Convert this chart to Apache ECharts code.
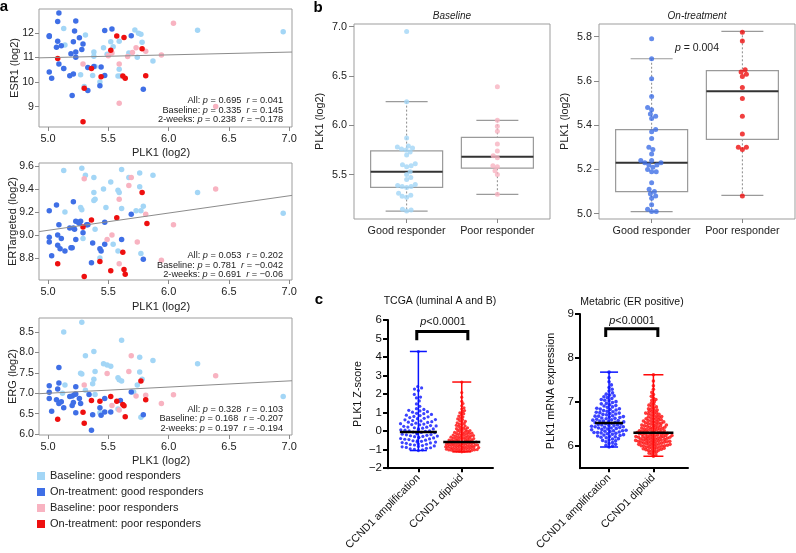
<!DOCTYPE html>
<html><head><meta charset="utf-8">
<script src="https://cdn.jsdelivr.net/npm/echarts@6/dist/echarts.min.js"></script>
<style>html,body{margin:0;padding:0;background:#fff}#c{width:796px;height:553px}</style>
</head><body><div id="c"></div>
<script>
// ---------------- DATA ----------------
const groupNames = ['Baseline: good responders','On-treatment: good responders','Baseline: poor responders','On-treatment: poor responders'];

// Panel a: [PLK1, gene] pairs
const esr1BaseGood = [[5.13,12.19],[5.72,12.12],[5.75,11.99],[5.77,11.95],[6.24,12.11],[6.95,12.05],[5.31,11.92],[5.52,11.64],[5.59,11.67],[5.78,11.62],[5.14,11.51],[5.54,11.44],[5.46,11.40],[5.38,11.23],[5.49,11.14],[5.67,11.19],[5.38,11.05],[5.74,11.01],[5.87,10.86],[5.39,10.64],[5.59,10.52],[5.13,10.55],[5.27,10.30],[5.37,10.27],[5.58,10.25],[5.60,10.25],[5.43,10.00],[5.30,9.82]];
const esr1TreatGood = [[5.09,12.82],[5.08,12.47],[5.23,12.49],[5.22,12.08],[5.47,12.10],[5.53,12.16],[5.01,11.89],[5.01,11.86],[5.26,11.81],[5.69,11.89],[5.08,11.67],[5.21,11.64],[5.29,11.55],[5.11,11.48],[5.07,11.42],[5.28,11.33],[5.19,11.16],[5.23,11.23],[5.23,11.01],[5.09,10.74],[5.13,10.55],[5.33,10.60],[5.38,10.64],[5.44,10.62],[5.01,10.41],[5.03,10.16],[5.18,10.26],[5.21,10.33],[5.47,10.27],[5.43,9.85],[5.33,9.66],[5.20,9.45],[5.79,9.71]];
const esr1BasePoor = [[6.04,12.40],[5.73,11.40],[5.81,11.26],[5.53,11.19],[5.70,11.21],[5.66,11.04],[5.50,11.07],[5.94,11.10],[5.29,10.74],[5.59,10.74],[5.59,9.14],[6.39,9.01]];
const esr1TreatPoor = [[5.57,11.88],[5.63,11.82],[5.78,11.36],[5.52,11.30],[5.08,10.96],[5.36,10.55],[5.44,10.22],[5.62,10.25],[5.64,10.16],[5.81,10.26],[5.30,9.75],[5.29,8.38]];

const ertBaseGood = [[5.13,9.56],[5.28,9.58],[5.31,9.52],[5.38,9.50],[5.61,9.57],[5.67,9.50],[5.76,9.54],[5.87,9.52],[5.52,9.46],[5.46,9.40],[5.38,9.37],[5.39,9.31],[5.38,9.30],[5.58,9.39],[5.59,9.37],[5.76,9.42],[6.24,9.37],[5.27,9.24],[5.28,9.22],[5.48,9.24],[5.61,9.23],[5.79,9.25],[5.73,9.21],[5.77,9.21],[5.14,9.20],[6.95,9.19],[5.39,9.05],[5.29,8.97],[5.54,8.92],[5.58,8.86],[5.77,8.84],[5.43,8.80]];
const ertTreatGood = [[5.07,9.26],[5.01,9.21],[5.21,9.29],[5.09,9.09],[5.23,9.12],[5.25,9.11],[5.27,9.12],[5.32,9.09],[5.33,9.09],[5.18,9.06],[5.21,9.06],[5.22,9.05],[5.26,9.10],[5.47,9.11],[5.69,9.18],[5.29,9.02],[5.01,8.98],[5.01,8.94],[5.08,9.00],[5.11,8.97],[5.23,8.96],[5.08,8.91],[5.10,8.88],[5.14,8.86],[5.19,8.89],[5.20,8.89],[5.03,8.82],[5.37,8.93],[5.43,8.88],[5.44,8.86],[5.47,8.92],[5.61,8.96],[5.36,8.76],[5.79,8.79]];
const ertBasePoor = [[5.30,9.49],[5.69,9.50],[5.67,9.43],[5.59,9.31],[5.81,9.18],[6.04,9.09],[6.39,9.40],[5.53,9.00],[5.49,8.96],[5.74,8.94],[5.94,8.78],[5.59,8.75]];
const ertTreatPoor = [[5.78,9.37],[5.57,9.15],[5.36,9.13],[5.82,9.10],[5.29,9.07],[5.62,8.85],[5.08,8.75],[5.43,8.77],[5.52,8.69],[5.63,8.70],[5.64,8.66],[5.30,8.64]];

const ergBaseGood = [[5.28,8.74],[5.13,8.50],[5.61,8.30],[5.31,7.92],[5.38,8.02],[5.46,7.72],[5.49,7.69],[5.52,7.66],[5.76,7.88],[5.87,7.80],[6.24,7.72],[5.27,7.49],[5.28,7.47],[5.39,7.53],[5.58,7.38],[5.59,7.33],[5.61,7.30],[5.76,7.52],[5.78,7.34],[5.74,7.20],[5.38,7.34],[5.37,7.23],[5.14,7.20],[5.31,7.07],[5.39,6.97],[5.12,7.00],[5.71,7.03],[6.95,6.92],[5.43,6.52],[5.58,6.61],[5.77,6.41]];
const ergTreatGood = [[5.01,7.18],[5.09,7.25],[5.09,7.63],[5.01,7.02],[5.08,7.10],[5.01,6.87],[5.07,6.84],[5.09,6.75],[5.11,6.79],[5.18,6.92],[5.20,6.93],[5.22,6.97],[5.23,6.98],[5.23,7.16],[5.26,6.87],[5.27,6.75],[5.34,6.97],[5.21,6.77],[5.20,6.70],[5.13,6.64],[5.03,6.56],[5.23,6.52],[5.37,6.47],[5.43,6.64],[5.44,6.46],[5.47,6.54],[5.52,6.54],[5.47,6.87],[5.60,6.82],[5.69,7.03],[5.79,6.47],[5.36,6.09]];
const ergBasePoor = [[5.69,7.92],[5.49,7.48],[5.67,7.53],[6.39,7.43],[5.30,7.20],[5.81,6.95],[5.73,6.93],[6.04,6.96],[5.53,6.70],[5.59,6.59],[5.94,6.75]];
const ergTreatPoor = [[5.77,7.30],[5.36,6.82],[5.43,6.80],[5.52,6.92],[5.57,6.80],[5.62,6.72],[5.63,6.69],[5.81,6.84],[5.29,6.53],[5.64,6.42],[5.08,6.36],[5.30,6.26]];

// regression lines [intercept, slope]
const esr1Fit = [10.432, 0.113];
const ertFit = [8.291, 0.150];
const ergFit = [6.244, 0.151];

const plkTicks = [5.0, 5.5, 6.0, 6.5, 7.0];
const esr1Ticks = [9, 10, 11, 12];
const ertTicks = [8.8, 9.0, 9.2, 9.4, 9.6];
const ergTicks = [6.0, 6.5, 7.0, 7.5, 8.0, 8.5];

// Panel b: PLK1 values
const baseGoodPLK1 = [6.95,6.24,5.87,5.79,5.78,5.77,5.76,5.75,5.73,5.70,5.61,5.60,5.59,5.58,5.53,5.50,5.47,5.45,5.40,5.39,5.38,5.38,5.37,5.31,5.29,5.28,5.27,5.15,5.14,5.13];
const basePoorPLK1 = [6.39,6.05,5.99,5.94,5.81,5.74,5.69,5.67,5.59,5.58,5.54,5.50,5.30];
const treatGoodPLK1 = [5.79,5.70,5.61,5.53,5.48,5.47,5.45,5.44,5.43,5.38,5.37,5.34,5.30,5.29,5.27,5.24,5.24,5.23,5.23,5.22,5.22,5.21,5.20,5.19,5.19,5.14,5.11,5.10,5.09,5.08,5.07,5.04,5.02,5.01,5.01];
const treatPoorPLK1 = [5.82,5.78,5.65,5.64,5.63,5.62,5.57,5.52,5.44,5.36,5.30,5.30,5.29,5.08];
// box stats: [position, lowWhisker, Q1, median, Q3, highWhisker]
const baselineBoxes = [[1,5.13,5.37,5.53,5.74,6.24],[2,5.30,5.565,5.68,5.877,6.05]];
const treatBoxes = [[1,5.009,5.10,5.23,5.38,5.70],[2,5.083,5.336,5.553,5.646,5.824]];
const responderLabels = ['Good responder','Poor responder'];
const baseTicks = [5.5, 6.0, 6.5, 7.0];
const treatTicks = [5.0, 5.2, 5.4, 5.6, 5.8];

// Panel c
const cnaLabels = ['CCND1 amplification','CCND1 diploid'];
const tcgaAmp = [4.30,2.41,2.33,2.27,2.19,1.98,1.84,1.79,1.63,1.47,1.34,1.21,1.17,1.12,1.09,1.05,1.02,0.96,0.94,0.90,0.86,0.84,0.79,0.77,0.73,0.69,0.67,0.62,0.61,0.57,0.55,0.51,0.48,0.47,0.43,0.40,0.38,0.35,0.34,0.30,0.28,0.26,0.22,0.21,0.18,0.16,0.13,0.12,0.08,0.07,0.05,0.02,0.01,-0.02,-0.03,-0.05,-0.07,-0.09,-0.11,-0.12,-0.15,-0.17,-0.19,-0.20,-0.23,-0.25,-0.27,-0.29,-0.30,-0.33,-0.36,-0.37,-0.40,-0.42,-0.44,-0.46,-0.49,-0.51,-0.52,-0.55,-0.58,-0.59,-0.62,-0.64,-0.66,-0.69,-0.71,-0.73,-0.75,-0.78,-0.80,-0.83,-0.85,-0.88,-0.90,-0.93,-0.96,-0.98,-1.01,-1.05];
const tcgaDip = [2.65,2.08,1.83,1.61,1.49,1.37,1.26,1.19,1.11,1.05,0.99,0.94,0.88,0.81,0.77,0.71,0.66,0.62,0.57,0.53,0.49,0.45,0.41,0.38,0.34,0.31,0.27,0.25,0.21,0.18,0.16,0.13,0.10,0.08,0.05,0.03,0.01,-0.02,-0.04,-0.05,-0.07,-0.09,-0.11,-0.12,-0.14,-0.16,-0.17,-0.19,-0.21,-0.22,-0.24,-0.25,-0.27,-0.28,-0.30,-0.31,-0.33,-0.34,-0.35,-0.37,-0.38,-0.40,-0.41,-0.42,-0.44,-0.45,-0.46,-0.48,-0.49,-0.50,-0.52,-0.53,-0.54,-0.55,-0.57,-0.58,-0.59,-0.60,-0.61,-0.62,-0.63,-0.65,-0.66,-0.67,-0.68,-0.69,-0.70,-0.71,-0.72,-0.73,-0.74,-0.75,-0.76,-0.77,-0.78,-0.79,-0.80,-0.81,-0.82,-0.83,-0.84,-0.85,-0.86,-0.87,-0.88,-0.89,-0.90,-0.91,-0.92,-0.93,-0.94,-0.95,-0.96,-0.97,-0.98,-0.99,-1.00,-1.01,-1.02,-1.03,-1.04,-1.05,-1.06,-1.07,-1.08,-1.09,-1.10,-1.12];
const metaAmp = [7.68,7.55,7.46,7.39,7.33,7.29,7.25,7.21,7.18,7.16,7.14,7.12,7.10,7.08,7.06,7.04,7.03,7.01,6.99,6.97,6.96,6.94,6.92,6.91,6.89,6.88,6.86,6.85,6.84,6.83,6.82,6.81,6.79,6.78,6.77,6.76,6.75,6.74,6.73,6.72,6.71,6.69,6.68,6.68,6.67,6.66,6.65,6.64,6.63,6.62,6.61,6.60,6.59,6.58,6.57,6.57,6.56,6.55,6.54,6.53,6.52,6.51,6.50,6.49,6.48,6.48,6.47,6.46,6.45,6.44,6.44,6.43,6.42,6.41,6.41,6.40,6.39,6.38,6.37,6.36,6.35,6.35,6.34,6.33,6.32,6.31,6.31,6.30,6.29,6.28,6.27,6.26,6.25,6.24,6.23,6.22,6.21,6.20,6.19,6.17,6.16,6.14,6.13,6.12,6.10,6.08,6.06,6.04,6.02,6.00,5.98];
const metaDip = [7.62,7.48,7.37,7.29,7.22,7.17,7.13,7.09,7.06,7.04,7.01,6.98,6.95,6.93,6.91,6.89,6.87,6.85,6.84,6.82,6.81,6.79,6.78,6.76,6.75,6.74,6.73,6.72,6.71,6.69,6.68,6.67,6.66,6.65,6.64,6.63,6.62,6.61,6.60,6.59,6.58,6.57,6.57,6.56,6.55,6.54,6.53,6.52,6.52,6.51,6.50,6.49,6.48,6.48,6.47,6.46,6.46,6.45,6.44,6.43,6.43,6.42,6.41,6.41,6.40,6.39,6.39,6.38,6.37,6.37,6.36,6.35,6.35,6.34,6.33,6.33,6.32,6.32,6.31,6.31,6.30,6.29,6.29,6.28,6.28,6.27,6.27,6.26,6.26,6.25,6.24,6.24,6.23,6.23,6.22,6.22,6.21,6.21,6.20,6.20,6.20,6.19,6.19,6.18,6.18,6.17,6.16,6.16,6.15,6.15,6.14,6.14,6.13,6.13,6.12,6.12,6.11,6.11,6.10,6.10,6.10,6.09,6.09,6.08,6.07,6.07,6.06,6.06,6.05,6.04,6.04,6.03,6.03,6.02,6.02,6.01,6.01,6.00,6.00,5.99,5.98,5.98,5.97,5.96,5.95,5.95,5.94,5.93,5.92,5.92,5.91,5.90,5.89,5.87,5.86,5.84,5.82,5.80,5.77];
// [position, min, median, max]
const tcgaStats = [[1,-1.05,-0.05,4.30],[2,-1.12,-0.59,2.65]];
const metaStats = [[1,5.98,6.525,7.68],[2,5.77,6.306,7.62]];
const tcgaTicks = [-2,-1,0,1,2,3,4,5,6];
const metaTicks = [6,7,8,9];

// ---------------- STYLE / LAYOUT ----------------
const FONT = '"Liberation Sans", Arial, Helvetica, sans-serif';
const COL = ['#a3d6f6', '#3f6fe6', '#f8b3c1', '#ee0f0f'];
const CBLUE = '#0a14ff', CRED = '#ff0a0a';
const G = [
  {left:39, top:9, width:253, height:118},
  {left:39, top:163, width:253, height:117},
  {left:39, top:318, width:253, height:117},
  {left:354, top:24, width:196, height:195},
  {left:599, top:24, width:196, height:195},
  {left:388, top:320, width:105, height:153},
  {left:580, top:314, width:108, height:160}
];
const AX = {min:4.925, max:7.023};
const YA = [[8.17,12.98],[8.609,9.626],[5.975,8.843]];
const BX = {min:0.42, max:2.58};
const YB = [[5.05,7.027],[4.976,5.857]];
const CX = [[0.30,2.72],[0.345,2.78]];
const CY = [[-2,6],[5.5,9]];

function swarm(vals, center, unitX, unitY, s, maxHalf) {
  const sorted = vals.slice().sort((a,b)=>a-b);
  const placed = [], out = [];
  sorted.forEach((v, k) => {
    const y = v * unitY;
    const near = placed.filter(p => Math.abs(p.y - y) < s);
    const cands = [0];
    near.forEach(p => { const dx = Math.sqrt(s*s - (p.y-y)*(p.y-y)); cands.push(p.x+dx, p.x-dx); });
    const pref = (k % 2) ? 1 : -1;
    cands.sort((a,b) => (Math.abs(a) - Math.abs(b)) || (pref*(b-a)));
    let x = null;
    for (const c of cands) {
      if (near.every(p => (p.x-c)*(p.x-c) + (p.y-y)*(p.y-y) >= s*s - 1e-6)) { x = c; break; }
    }
    if (x === null) x = 0;
    if (Math.abs(x) > maxHalf) x = Math.sign(x) * (Math.abs(x) % maxHalf);
    placed.push({x, y});
    out.push([center + x/unitX, v]);
  });
  return out;
}

const ts = (size, extra) => Object.assign({fontFamily:FONT, fontSize:size, color:'#222'}, extra || {});

const grids = G.map((g, i) => Object.assign({}, g, i < 5 ? {show:true, borderColor:'#9d9d9d', borderWidth:1} : {show:false}));

const xAxes = [], yAxes = [];
// panel a axes
const aYNames = ['ESR1 (log2)', 'ERTargeted (log2)', 'ERG (log2)'];
const aYTicks = [esr1Ticks, ertTicks, ergTicks];
const aYDec = [0, 1, 1];
const aXGap = [20, 21.5, 20.5];
for (let i = 0; i < 3; i++) {
  xAxes.push({type:'value', gridIndex:i, min:AX.min, max:AX.max,
    axisLine:{show:false, onZero:false}, splitLine:{show:false},
    axisTick:{show:true, length:4, customValues:plkTicks, lineStyle:{color:'#888'}},
    axisLabel:{customValues:plkTicks, formatter:v=>v.toFixed(1), margin:6, ...ts(11)},
    name:'PLK1 (log2)', nameLocation:'middle', nameGap:aXGap[i], nameMoveOverlap:false, nameTextStyle:ts(11, {padding:[0,9,0,0]})});
  yAxes.push({type:'value', gridIndex:i, min:YA[i][0], max:YA[i][1],
    axisLine:{show:false, onZero:false}, splitLine:{show:false},
    axisTick:{show:true, length:4, customValues:aYTicks[i], lineStyle:{color:'#888'}},
    axisLabel:{customValues:aYTicks[i], formatter:v=>v.toFixed(aYDec[i]), margin:5, ...ts(10.6)},
    name:aYNames[i], nameLocation:'middle', nameGap:aYDec[i] ? 21 : 19, nameMoveOverlap:false, nameTextStyle:ts(11)});
}
// panel b axes
const bTicks = [baseTicks, treatTicks];
for (let j = 0; j < 2; j++) {
  const gi = 3 + j;
  xAxes.push({type:'value', gridIndex:gi, min:BX.min, max:BX.max,
    axisLine:{show:false, onZero:false}, splitLine:{show:false},
    axisTick:{show:true, length:4, customValues:[1,2], lineStyle:{color:'#888'}},
    axisLabel:{customValues:[1,2], formatter:v=>responderLabels[Math.round(v)-1], margin:7, ...ts(10.8)}});
  yAxes.push({type:'value', gridIndex:gi, min:YB[j][0], max:YB[j][1],
    axisLine:{show:false, onZero:false}, splitLine:{show:false},
    axisTick:{show:true, length:5, customValues:bTicks[j], lineStyle:{color:'#888'}},
    axisLabel:{customValues:bTicks[j], formatter:v=>v.toFixed(1), margin:7, ...ts(10.8)},
    name:'PLK1 (log2)', nameLocation:'middle', nameGap:28, nameTextStyle:ts(10.8)});
}
// panel c axes
const cYNames = ['PLK1 Z-score', 'PLK1 mRNA expression'];
const cYTicks = [tcgaTicks, metaTicks];
const cYGap = [24, 23];
for (let j = 0; j < 2; j++) {
  const gi = 5 + j;
  const blk = {color:'#000', width:2};
  xAxes.push({type:'value', gridIndex:gi, min:CX[j][0], max:CX[j][1],
    axisLine:{show:true, onZero:false, lineStyle:blk}, splitLine:{show:false},
    axisTick:{show:true, length:4, customValues:[1,2], lineStyle:blk},
    axisLabel:{customValues:[1,2], rotate:45, formatter:v=>cnaLabels[Math.round(v)-1], margin:8, ...ts(10.8, {color:'#111'})}});
  yAxes.push({type:'value', gridIndex:gi, min:CY[j][0], max:CY[j][1],
    axisLine:{show:true, onZero:false, lineStyle:blk}, splitLine:{show:false},
    axisTick:{show:true, length:5, customValues:cYTicks[j], lineStyle:blk},
    axisLabel:{customValues:cYTicks[j], formatter:v=>v < 0 ? '\u2212' + (-v) : String(v), margin:6, ...ts(11.5, {color:'#111'})},
    name:cYNames[j], nameLocation:'middle', nameGap:cYGap[j], nameTextStyle:ts(10.8, {color:'#111'})});
}

const series = [];
// panel a scatter
const aData = [[esr1BaseGood, esr1TreatGood, esr1BasePoor, esr1TreatPoor],
               [ertBaseGood, ertTreatGood, ertBasePoor, ertTreatPoor],
               [ergBaseGood, ergTreatGood, ergBasePoor, ergTreatPoor]];
const fits = [esr1Fit, ertFit, ergFit];
for (let i = 0; i < 3; i++) {
  for (let g = 0; g < 4; g++) {
    series.push({type:'scatter', name:groupNames[g], xAxisIndex:i, yAxisIndex:i, data:aData[i][g],
      symbolSize:5.5, itemStyle:{color:COL[g], opacity:1}, z:2, silent:true});
  }
  const f = fits[i];
  series.push({type:'line', name:'fit'+i, xAxisIndex:i, yAxisIndex:i, symbol:'none', silent:true, z:3,
    data:[[AX.min, f[0] + f[1]*AX.min], [AX.max, f[0] + f[1]*AX.max]],
    lineStyle:{color:'#8c8c8c', width:1}});
}

// panel b boxes
function boxRender(params, api) {
  const x = api.value(0);
  const lo = api.coord([x, api.value(1)]), q1 = api.coord([x, api.value(2)]), md = api.coord([x, api.value(3)]),
        q3 = api.coord([x, api.value(4)]), hi = api.coord([x, api.value(5)]);
  const cx = lo[0], bw = 36, cw = 21;
  const dash = {stroke:'#8a8a8a', lineWidth:1, lineDash:[2,2]};
  const gray = {stroke:'#9a9a9a', lineWidth:1.2};
  return {type:'group', children:[
    {type:'line', shape:{x1:cx, y1:hi[1], x2:cx, y2:q3[1]}, style:dash},
    {type:'line', shape:{x1:cx, y1:q1[1], x2:cx, y2:lo[1]}, style:dash},
    {type:'line', shape:{x1:cx-cw, y1:hi[1], x2:cx+cw, y2:hi[1]}, style:gray},
    {type:'line', shape:{x1:cx-cw, y1:lo[1], x2:cx+cw, y2:lo[1]}, style:gray},
    {type:'rect', shape:{x:cx-bw, y:q3[1], width:2*bw, height:q1[1]-q3[1]}, style:{stroke:'#9a9a9a', lineWidth:1.2, fill:'rgba(0,0,0,0)'}},
    {type:'line', shape:{x1:cx-bw, y1:md[1], x2:cx+bw, y2:md[1]}, style:{stroke:'#333', lineWidth:2}}
  ]};
}
const bBoxes = [baselineBoxes, treatBoxes];
for (let j = 0; j < 2; j++) {
  series.push({type:'custom', xAxisIndex:3+j, yAxisIndex:3+j, data:bBoxes[j], renderItem:boxRender, silent:true, z:1});
}
const bUX = G[3].width / (BX.max - BX.min);
const bPts = [[baseGoodPLK1, basePoorPLK1], [treatGoodPLK1, treatPoorPLK1]];
const bCols = [[COL[0], COL[2]], [COL[1], COL[3]]];
for (let j = 0; j < 2; j++) {
  const uy = G[3+j].height / (YB[j][1] - YB[j][0]);
  for (let k = 0; k < 2; k++) {
    series.push({type:'scatter', xAxisIndex:3+j, yAxisIndex:3+j, silent:true, z:3, symbolSize:5,
      data:swarm(bPts[j][k], k+1, bUX, uy, 4.6, 30), itemStyle:{color:bCols[j][k]}});
  }
}

// panel c
const cStats = [tcgaStats, metaStats];
const cPts = [[tcgaAmp, tcgaDip], [metaAmp, metaDip]];
const cSpacing = [[4.2, 2.6], [3.6, 2.8]];
const cMax = [[19, 20], [20, 22]];
const cSym = [3.2, 3.6];
const capHalf = [[8.5, 9.5], [9, 10]];
const medHalf = [[18.5, 18.5], [14, 20]];
const cCols = [CBLUE, CRED];
for (let j = 0; j < 2; j++) {
  const gi = 5 + j;
  const ux = G[gi].width / (CX[j][1] - CX[j][0]);
  const uy = G[gi].height / (CY[j][1] - CY[j][0]);
  series.push({type:'custom', xAxisIndex:gi, yAxisIndex:gi, silent:true, z:1,
    data:cStats[j].map((d, k) => ({value:d, itemStyle:{color:cCols[k]}})),
    renderItem:(params, api) => {
      const k = params.dataIndex, x = api.value(0);
      const a = api.coord([x, api.value(1)]), b = api.coord([x, api.value(3)]);
      const st = {stroke:api.visual('color'), lineWidth:1.5};
      const ch = capHalf[j][k];
      return {type:'group', children:[
        {type:'line', shape:{x1:a[0], y1:a[1], x2:b[0], y2:b[1]}, style:st},
        {type:'line', shape:{x1:a[0]-ch, y1:a[1], x2:a[0]+ch, y2:a[1]}, style:st},
        {type:'line', shape:{x1:b[0]-ch, y1:b[1], x2:b[0]+ch, y2:b[1]}, style:st}
      ]};
    }});
  for (let k = 0; k < 2; k++) {
    series.push({type:'scatter', xAxisIndex:gi, yAxisIndex:gi, silent:true, z:2, symbolSize:cSym[j],
      data:swarm(cPts[j][k], k+1, ux, uy, cSpacing[j][k], cMax[j][k]), itemStyle:{color:cCols[k]}});
  }
  series.push({type:'custom', xAxisIndex:gi, yAxisIndex:gi, silent:true, z:4, data:cStats[j],
    renderItem:(params, api) => {
      const k = params.dataIndex;
      const m = api.coord([api.value(0), api.value(2)]);
      const h = medHalf[j][k];
      return {type:'line', shape:{x1:m[0]-h, y1:m[1], x2:m[0]+h, y2:m[1]}, style:{stroke:'#000', lineWidth:2.5}};
    }});
}
// significance brackets [x1, x2, yTop, yBottom]
const brackets = [[[0.963, 2.14, 5.38, 4.91]], [[0.925, 2.10, 8.665, 8.48]]];
for (let j = 0; j < 2; j++) {
  series.push({type:'custom', xAxisIndex:5+j, yAxisIndex:5+j, silent:true, z:5, data:brackets[j],
    renderItem:(params, api) => {
      const p1 = api.coord([api.value(0), api.value(3)]), p2 = api.coord([api.value(0), api.value(2)]),
            p3 = api.coord([api.value(1), api.value(2)]), p4 = api.coord([api.value(1), api.value(3)]);
      return {type:'polyline', shape:{points:[p1, p2, p3, p4]}, style:{stroke:'#000', lineWidth:3, fill:null}};
    }});
}

// ---------------- TEXT ----------------
function T(x, y, text, size, opt) {
  const o = opt || {};
  return {type:'text', x, y, silent:true, z:10, style:{text, fill:o.fill || '#222', fontSize:size, fontFamily:FONT,
    fontStyle:o.fontStyle || 'normal', fontWeight:o.fontWeight || 'normal',
    align:o.align || 'center', verticalAlign:'middle',
    rich:{i:{fontStyle:'italic', fontSize:size, fontFamily:FONT, fill:o.fill || '#222'}}}};
}
const annA = [
  [[100, 'All: {i|p} = 0.695  {i|r} = 0.041'], [110, 'Baseline: {i|p} = 0.335  {i|r} = 0.145'], [119.5, '2-weeks: {i|p} = 0.238  {i|r} = \u22120.178']],
  [[255.5, 'All: {i|p} = 0.053  {i|r} = 0.202'], [265, 'Baseline: {i|p} = 0.781  {i|r} = \u22120.042'], [274.5, '2-weeks: {i|p} = 0.691  {i|r} = \u22120.06']],
  [[409, 'All: {i|p} = 0.328  {i|r} = 0.103'], [418.7, 'Baseline: {i|p} = 0.168  {i|r} = -0.207'], [428.3, '2-weeks: {i|p} = 0.197  {i|r} = -0.194']]
];
const graphics = [
  T(4, 7, 'a', 15, {fontWeight:'bold', fill:'#000'}),
  T(318, 8, 'b', 15, {fontWeight:'bold', fill:'#000'}),
  T(319, 300, 'c', 15, {fontWeight:'bold', fill:'#000'}),
  T(452, 16, 'Baseline', 10, {fontStyle:'italic'}),
  T(697, 16, 'On-treatment', 10, {fontStyle:'italic'}),
  T(697, 48, '{i|p} = 0.004', 10.5),
  T(440, 301, 'TCGA (luminal A and B)', 10.5, {fill:'#111'}),
  T(632, 302, 'Metabric (ER positive)', 10.5, {fill:'#111'}),
  T(443, 322, '{i|p}<0.0001', 10.8, {fill:'#111'}),
  T(632, 321, '{i|p}<0.0001', 10.8, {fill:'#111'})
];
annA.forEach(lines => lines.forEach(([y, s]) => graphics.push(T(283, y, s, 9.2, {align:'right'}))));

const option = {
  animation:false,
  backgroundColor:'#fff',
  grid:grids,
  xAxis:xAxes,
  yAxis:yAxes,
  legend:{data:groupNames, orient:'vertical', left:37, top:470, itemWidth:8, itemHeight:8, itemGap:4, icon:'rect',
    selectedMode:false, padding:0, textStyle:ts(11, {lineHeight:12})},
  series,
  graphic:graphics
};
const chart = echarts.init(document.getElementById('c'), null, {renderer:'canvas'});
chart.setOption(option);
</script></body></html>
